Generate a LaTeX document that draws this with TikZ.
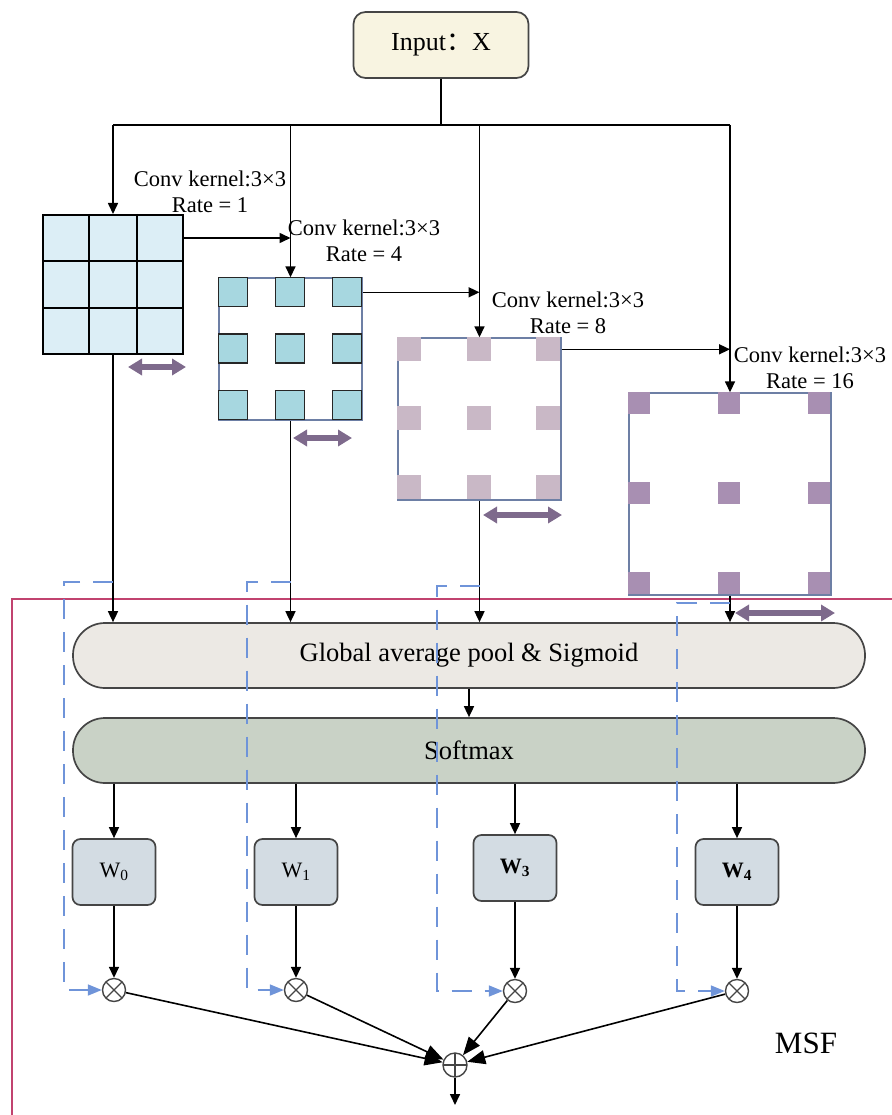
\documentclass[tikz,border=0pt]{standalone}
\usepackage{fontspec}
\setmainfont{Liberation Serif}
\newfontfamily\cjk{Noto Sans CJK SC}
\usetikzlibrary{arrows.meta,calc}

\definecolor{inputfill}{HTML}{F8F4E1}
\definecolor{edgegray}{HTML}{454545}
\definecolor{gonefill}{HTML}{DCEEF6}
\definecolor{gtwosq}{HTML}{A7D7E0}
\definecolor{gthreesq}{HTML}{C9B8C6}
\definecolor{gfoursq}{HTML}{A88FB2}
\definecolor{gridedge}{HTML}{6D7FA5}
\definecolor{poolfill}{HTML}{ECE9E4}
\definecolor{softfill}{HTML}{C9D2C6}
\definecolor{wfill}{HTML}{D3DCE3}
\definecolor{msfred}{HTML}{C1436F}
\definecolor{dashblue}{HTML}{6F94D9}
\definecolor{spanpurple}{HTML}{7E6A8C}

\tikzset{
  arr/.style={line width=1.6pt, -{Triangle[length=11pt,width=10pt]}},
  bigarr/.style={line width=1.6pt, -{Triangle[length=18pt,width=14pt]}},
  plain/.style={line width=1.6pt},
  gridbox/.style={rectangle, inner sep=0pt},
  lbl/.style={align=center, inner sep=0pt, font=\fontsize{22.5}{26}\selectfont},
  bandbox/.style={rectangle, rounded corners=32pt, draw=edgegray, line width=1.7pt,
    minimum width=792pt, minimum height=65pt, inner sep=0pt,
    font=\fontsize{26.5}{30}\selectfont},
  wbox/.style={rectangle, rounded corners=8pt, draw=edgegray, line width=1.7pt,
    fill=wfill, minimum width=83pt, minimum height=66pt, inner sep=0pt,
    font=\fontsize{22}{26}\selectfont},
  otimes/.style={circle, draw=edgegray, line width=1.4pt, minimum size=23pt, inner sep=0pt,
    path picture={\draw[line width=1.3pt, edgegray]
      (path picture bounding box.north west) -- (path picture bounding box.south east)
      (path picture bounding box.north east) -- (path picture bounding box.south west);}},
  oplus/.style={circle, draw=edgegray, line width=1.4pt, minimum size=24pt, inner sep=0pt,
    path picture={\draw[line width=1.3pt, edgegray]
      (path picture bounding box.north) -- (path picture bounding box.south)
      (path picture bounding box.east) -- (path picture bounding box.west);}},
  dashpath/.style={dashblue, line width=1.7pt, dash pattern=on 20pt off 13pt,
    -{Triangle[length=14pt,width=11pt]}},
  span/.style={spanpurple, line width=6pt,
    {Triangle[length=14pt,width=16pt]}-{Triangle[length=14pt,width=16pt]}},
}

\begin{document}
\begin{tikzpicture}[x=1pt,y=-1pt]
\useasboundingbox (0,0) rectangle (891,1115);

% input node
\node[rectangle, rounded corners=12pt, draw=edgegray, line width=1.7pt, fill=inputfill,
      minimum width=175pt, minimum height=66pt, font=\fontsize{26}{30}\selectfont]
      (inp) at (441,45) {Input{\cjk ：}X};

% dilated-convolution grids
\node[gridbox, fill=gonefill, draw=black, line width=2pt,
      minimum width=140pt, minimum height=139pt] (g1) at (113,284.5) {};
\foreach \f in {0.3333,0.6667}{
  \draw[line width=2pt] ($(g1.north west)!\f!(g1.north east)$) -- ($(g1.south west)!\f!(g1.south east)$);
  \draw[line width=2pt] ($(g1.north west)!\f!(g1.south west)$) -- ($(g1.north east)!\f!(g1.south east)$);
}

\node[gridbox, draw=gridedge, line width=1.4pt,
      minimum width=143pt, minimum height=142pt] (g2) at (290.5,349) {};
\foreach \i in {0,1,2}{\foreach \j in {0,1,2}{
  \draw[fill=gtwosq, draw=black!85, line width=1.6pt]
    ($(g2.north west)+(\i*57,\j*56.5)$) rectangle ++(29,29);
}}

\node[gridbox, draw=gridedge, line width=1.4pt,
      minimum width=163pt, minimum height=162pt] (g3) at (479.5,419) {};
\foreach \i in {0,1,2}{\foreach \j in {0,1,2}{
  \fill[gthreesq] ($(g3.north west)+(\i*69.5,\j*69)$) rectangle ++(24,24);
}}

\node[gridbox, draw=gridedge, line width=1.4pt,
      minimum width=202pt, minimum height=202pt] (g4) at (730,494) {};
\foreach \i in {0,1,2}{\foreach \j in {0,1,2}{
  \fill[gfoursq] ($(g4.north west)+(\i*90,\j*90)$) rectangle ++(22,22);
}}

% kernel labels
\node[lbl] (l1) at (210,192) {Conv kernel:3×3\\Rate = 1};
\node[lbl] (l2) at (364,241) {Conv kernel:3×3\\Rate = 4};
\node[lbl] (l3) at (568,313) {Conv kernel:3×3\\Rate = 8};
\node[lbl] (l4) at (810,368) {Conv kernel:3×3\\Rate = 16};

% receptive-field span markers
\draw[span] (128,367) -- (186,367);
\draw[span] (293,438) -- (352,438);
\draw[span] (483,515) -- (562,515);
\draw[span] (735,613) -- (835,613);

% MSF frame
\draw[msfred, line width=2pt] (12,1120) -- (12,599) -- (895,599);
\node[font=\fontsize{31}{34}\selectfont, inner sep=0pt] (msf) at (806,1043) {MSF};

% pooling and softmax bands
\node[bandbox, fill=poolfill] (gap) at (469,655.5) {Global average pool \& Sigmoid};
\node[bandbox, fill=softfill] (sm) at (469,750.5) {Softmax};

% weights, products and sum
\node[wbox] (w0) at (114,872) {W\textsubscript{0}};
\node[wbox] (w1) at (296,872) {W\textsubscript{1}};
\node[wbox] (w3) at (515,868) {\textbf{W\textsubscript{3}}};
\node[wbox] (w4) at (737,872) {\textbf{W\textsubscript{4}}};

\node[otimes] (m0) at (114,990) {};
\node[otimes] (m1) at (296,990) {};
\node[otimes] (m3) at (515,991) {};
\node[otimes] (m4) at (737,991) {};

\node[oplus] (sum) at (455,1065) {};
\coordinate (out) at (455,1105);

% input to grids through a shared bus
\coordinate (bus) at (441,125);
\draw[plain] (inp.south) -- (inp.south |- bus);
\draw[plain] (g1.north |- bus) -- (g4.north |- bus);
\draw[arr] (g1.north |- bus) -- (g1.north);
\draw[arr] (g2.north |- bus) -- (g2.north);
\draw[arr] (g3.north |- bus) -- (g3.north);
\draw[arr] (g4.north |- bus) -- (g4.north);

% cascade between grids
\draw[arr] ([yshift=-24pt]g1.north east) -- ([yshift=-24pt]g1.north east -| g2.north);
\draw[arr] ([yshift=-15pt]g2.north east) -- ([yshift=-15pt]g2.north east -| g3.north);
\draw[arr] ([yshift=-12pt]g3.north east) -- ([yshift=-12pt]g3.north east -| g4.north);

% grids to pooling
\draw[arr] (g1.south) -- (g1.south |- gap.north);
\draw[arr] (g2.south) -- (g2.south |- gap.north);
\draw[arr] (g3.south) -- (g3.south |- gap.north);
\draw[arr] (g4.south) -- (g4.south |- gap.north);

\draw[arr] (gap.south) -- (sm.north);

% softmax to weights to products
\draw[arr] (w0.north |- sm.south) -- (w0.north);
\draw[arr] (w1.north |- sm.south) -- (w1.north);
\draw[arr] (w3.north |- sm.south) -- (w3.north);
\draw[arr] (w4.north |- sm.south) -- (w4.north);
\draw[arr] (w0) -- (m0);
\draw[arr] (w1) -- (m1);
\draw[arr] (w3) -- (m3);
\draw[arr] (w4) -- (m4);

% skip paths carrying the branch features
\draw[dashpath] (g1.south |- 0,582) -- (64,582) -- (64,990) -- (m0.west);
\draw[dashpath] (g2.south |- 0,582) -- (247,582) -- (247,990) -- (m1.west);
\draw[dashpath] (g3.south |- 0,586) -- (437,586) -- (437,991) -- (m3.west);
\draw[dashpath] (g4.south |- 0,603) -- (677,603) -- (677,991) -- (m4.west);

% products to sum
\draw[bigarr] (m0) -- (sum);
\draw[bigarr] (m1) -- (sum);
\draw[bigarr] (m3) -- (sum);
\draw[bigarr] (m4) -- (sum);
\draw[arr] (sum) -- (out);
\end{tikzpicture}
\end{document}
